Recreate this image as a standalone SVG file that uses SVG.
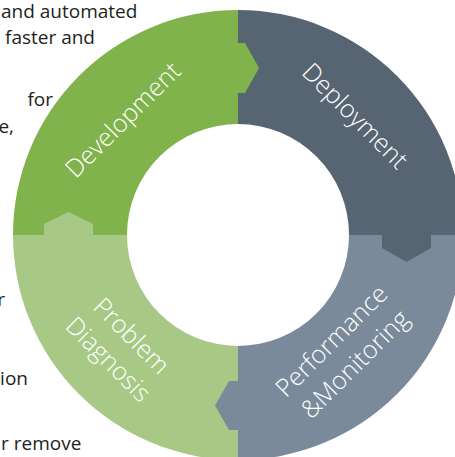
<svg xmlns="http://www.w3.org/2000/svg" width="455" height="457" viewBox="0 0 455 457">
  <style>
    .bg { font-family: "Open Sans", "Liberation Sans", sans-serif; font-size: 19px; fill: #231f20; }
    .end { text-anchor: end; }
    .lbl { font-family: "Open Sans", "Liberation Sans", sans-serif; font-weight: 300; font-size: 25px; fill: #ffffff; text-anchor: middle; }
    .dev { fill: #80b34b; }
    .dep { fill: #576573; }
    .perf { fill: #7b8a9a; }
    .diag { fill: #a8c985; }
  </style>
  <rect width="455" height="457" fill="#ffffff"/>
  <g id="background-text">
    <text class="bg" x="1" y="18">and automated</text>
    <text class="bg end" x="95" y="44">faster and</text>
    <text class="bg end" x="53" y="106">for</text>
    <text class="bg end" x="14" y="133">e,</text>
    <text class="bg end" x="5" y="306">r</text>
    <text class="bg end" x="28" y="385">ion</text>
    <text class="bg" x="1" y="450">r remove</text>
  </g>
  <g id="development">
    <path class="dev" d="M 13 235 A 225 225 0 0 1 238 10 L 238 124 A 111 111 0 0 0 127 235 Z"/>
    <text class="lbl" transform="translate(129,126) rotate(-45)">Development</text>
  </g>
  <g id="deployment">
    <path class="dep" d="M 238 10 A 225 225 0 0 1 463 235 L 349 235 A 111 111 0 0 0 238 124 Z"/>
    <text class="lbl" transform="translate(349,122) rotate(45)">Deployment</text>
  </g>
  <g id="performance-monitoring">
    <path class="perf" d="M 463 235 A 225 225 0 0 1 238 460 L 238 346 A 111 111 0 0 0 349 235 Z"/>
    <text class="lbl" transform="translate(337.6,347) rotate(-45)"><tspan x="0" y="0">Performance</tspan><tspan x="0" y="33">&amp;Monitoring</tspan></text>
  </g>
  <g id="problem-diagnosis">
    <path class="diag" d="M 238 460 A 225 225 0 0 1 13 235 L 127 235 A 111 111 0 0 0 238 346 Z"/>
    <text class="lbl" transform="translate(125.5,342) rotate(45)"><tspan x="0" y="0">Problem</tspan><tspan x="0" y="33">Diagnosis</tspan></text>
  </g>
  <g id="connectors">
    <polygon class="dev" points="237,43 245,43 259,68 245,93 237,93"/>
    <polygon class="dep" points="382,234 382,248 406.5,262 431,248 431,234"/>
    <polygon class="perf" points="239,381 229,381 215,405.5 229,430 239,430"/>
    <polygon class="diag" points="44,236 44,224 68.5,212 93,224 93,236"/>
  </g>
</svg>
